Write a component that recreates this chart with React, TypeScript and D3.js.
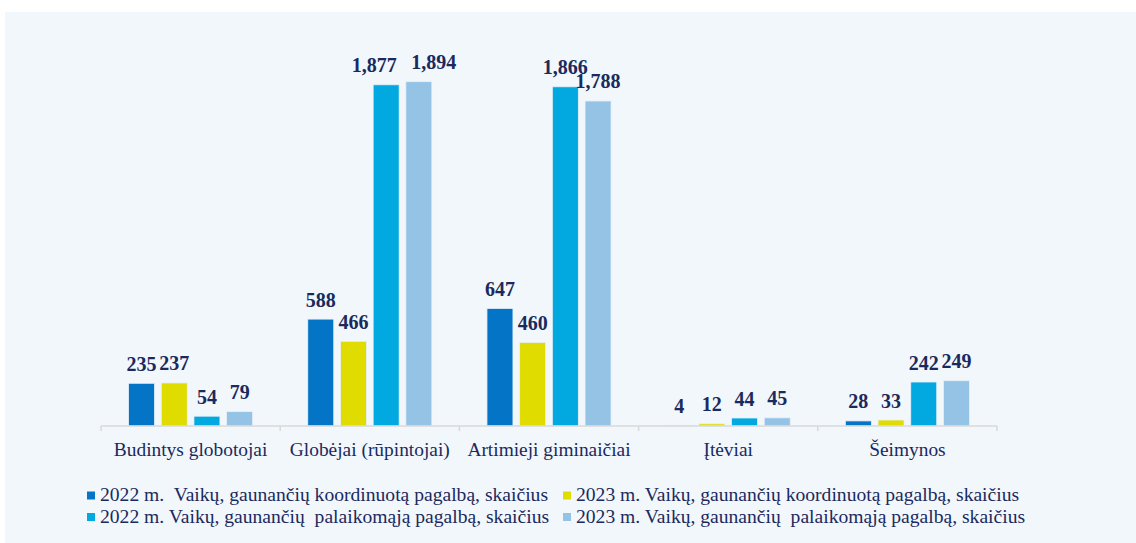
import { useEffect, useRef } from 'react';
import * as d3 from 'd3';

const categories = [
  'Budintys globotojai',
  'Globėjai (rūpintojai)',
  'Artimieji giminaičiai',
  'Įtėviai',
  'Šeimynos',
];

const seriesNames = [
  '2022 m.  Vaikų, gaunančių koordinuotą pagalbą, skaičius',
  '2023 m. Vaikų, gaunančių koordinuotą pagalbą, skaičius',
  '2022 m. Vaikų, gaunančių  palaikomąją pagalbą, skaičius',
  '2023 m. Vaikų, gaunančių  palaikomąją pagalbą, skaičius',
];

const coord2022 = [235, 588, 647, 4, 28];
const coord2023 = [237, 466, 460, 12, 33];
const support2022 = [54, 1877, 1866, 44, 242];
const support2023 = [79, 1894, 1788, 45, 249];

const seriesColors = ['#0474c6', '#e0dc00', '#02a8e0', '#94c3e6'];

// nudges for labels that would collide (category index - series index)
const labelNudge: Record<string, number> = { '1-2': -12, '1-3': 15 };

const W = 1136;
const H = 543;
const serif = '"Liberation Serif", "Times New Roman", serif';

function App() {
  const svgRef = useRef<SVGSVGElement>(null);

  useEffect(() => {
    if (!svgRef.current) return;
    const svg = d3.select(svgRef.current);
    svg.selectAll('*').remove();

    const series = [coord2022, coord2023, support2022, support2023];
    const margin = { top: 40, left: 101, right: 139, bottom: 117 };
    const plotW = W - margin.left - margin.right;
    const axisY = H - margin.bottom;

    // panel background
    svg.append('rect')
      .attr('x', 5).attr('y', 12)
      .attr('width', W - 5).attr('height', H - 12)
      .attr('fill', '#f2f7fc');

    const x0 = d3.scaleBand<string>()
      .domain(categories)
      .range([margin.left, margin.left + plotW])
      .paddingInner(0)
      .paddingOuter(0);

    const x1 = d3.scaleBand<number>()
      .domain(d3.range(series.length))
      .range([0, x0.bandwidth()])
      .paddingInner(0.205)
      .paddingOuter(0.843);

    const y = d3.scaleLinear()
      .domain([0, 1894])
      .range([axisY, 81.7]);

    const fmt = d3.format(',');
    const textColor = '#1b2a5c';

    categories.forEach((cat, ci) => {
      const g = svg.append('g').attr('transform', `translate(${x0(cat)},0)`);
      series.forEach((vals, si) => {
        const v = vals[ci];
        g.append('rect')
          .attr('x', x1(si)!)
          .attr('y', y(v))
          .attr('width', x1.bandwidth())
          .attr('height', axisY - y(v))
          .attr('fill', seriesColors[si])
          .attr('stroke', '#e8f0f8')
          .attr('stroke-width', 0.8);
        g.append('text')
          .attr('x', x1(si)! + x1.bandwidth() / 2 + (labelNudge[`${ci}-${si}`] || 0))
          .attr('y', y(v) - 12.5)
          .attr('text-anchor', 'middle')
          .attr('font-family', serif)
          .attr('font-weight', 'bold')
          .attr('font-size', 20)
          .attr('fill', textColor)
          .text(fmt(v));
      });
    });

    // category axis
    const axis = svg.append('g');
    axis.append('line')
      .attr('x1', margin.left).attr('x2', margin.left + plotW)
      .attr('y1', axisY).attr('y2', axisY)
      .attr('stroke', '#d9d9d9').attr('stroke-width', 1.5);
    const edges = categories.map(c => x0(c)!).concat([margin.left + plotW]);
    edges.forEach(ex => {
      axis.append('line')
        .attr('x1', ex).attr('x2', ex)
        .attr('y1', axisY).attr('y2', axisY + 5)
        .attr('stroke', '#d9d9d9').attr('stroke-width', 1.5);
    });
    categories.forEach(cat => {
      axis.append('text')
        .attr('x', x0(cat)! + x0.bandwidth() / 2)
        .attr('y', axisY + 30)
        .attr('text-anchor', 'middle')
        .attr('font-family', serif)
        .attr('font-size', 19.4)
        .attr('fill', textColor)
        .text(cat);
    });

    // legend
    const legendPos = [
      { x: 87, y: 495.5 },
      { x: 563, y: 495.5 },
      { x: 87, y: 517 },
      { x: 563, y: 517 },
    ];
    seriesNames.forEach((name, i) => {
      const p = legendPos[i];
      svg.append('rect')
        .attr('x', p.x).attr('y', p.y - 4)
        .attr('width', 8).attr('height', 8)
        .attr('fill', seriesColors[i]);
      svg.append('text')
        .attr('x', p.x + 13)
        .attr('y', p.y + 5.5)
        .attr('font-family', serif)
        .attr('font-size', 19.6)
        .attr('fill', textColor)
        .style('white-space', 'pre')
        .text(name);
    });
  }, []);

  return (
    <svg
      ref={svgRef}
      width={W}
      height={H}
      style={{ position: 'absolute', left: 0, top: 0, background: '#ffffff' }}
    />
  );
}

export default App;
